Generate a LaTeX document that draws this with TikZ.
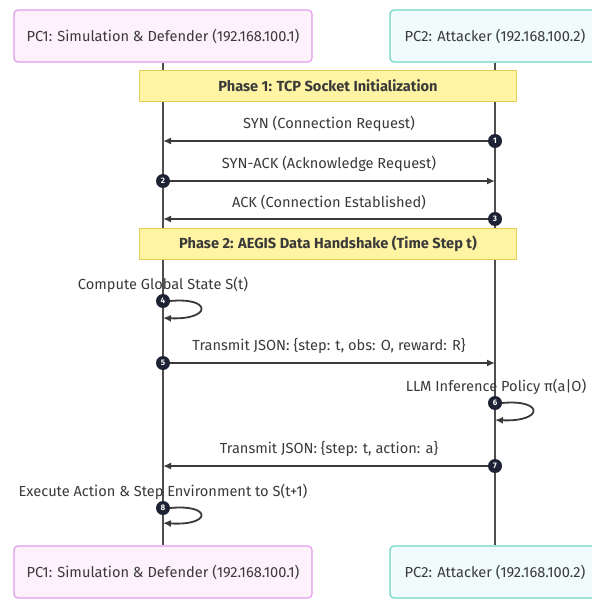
\documentclass[tikz,border=0pt]{standalone}
\usepackage{fontspec}
\setmainfont{Fira Sans}
\usetikzlibrary{arrows.meta}
\definecolor{pcpink}{HTML}{E39BE8}
\definecolor{pcpinkfill}{HTML}{FDF2FC}
\definecolor{pcteal}{HTML}{6ED6C6}
\definecolor{pctealfill}{HTML}{F0FBFB}
\definecolor{phaseline}{HTML}{E6CF58}
\definecolor{phasefill}{HTML}{FFF4A3}
\definecolor{ink}{HTML}{3A3A3A}
\definecolor{dot}{HTML}{1E2235}
\begin{document}
\begin{tikzpicture}[x=1pt,y=-1pt,
  font=\fontsize{14.6}{16}\selectfont,
  pcone/.style={draw=pcpink,fill=pcpinkfill,line width=1.2pt,rounded corners=4pt,
    minimum width=298,minimum height=52,text=ink},
  pctwo/.style={draw=pcteal,fill=pctealfill,line width=1.2pt,rounded corners=4pt,
    minimum width=210,minimum height=52,text=ink},
  phase/.style={draw=phaseline,fill=phasefill,line width=1.2pt,
    minimum width=377,minimum height=31,text=ink,font=\fontsize{14.6}{16}\selectfont\bfseries},
  life/.style={draw=ink!90,line width=1.4pt},
  msg/.style={draw=ink,line width=1.8pt,-{Latex[length=8pt,width=7pt]}},
  lbl/.style={text=ink,inner sep=1pt},
  num/.style={circle,fill=dot,text=white,inner sep=0pt,minimum size=14pt,
    font=\fontsize{8}{8}\selectfont\bfseries}]
\useasboundingbox[fill=white] (0,0) rectangle (591,601);
\node[pcone] (top1) at (163,36) {PC1: Simulation \& Defender (192.168.100.1)};
\node[pctwo] (top2) at (495,36) {PC2: Attacker (192.168.100.2)};
\node[pcone] (bot1) at (163,572) {PC1: Simulation \& Defender (192.168.100.1)};
\node[pctwo] (bot2) at (495,572) {PC2: Attacker (192.168.100.2)};
\draw[life] (top1.south) -- (bot1.north);
\draw[life] (top2.south) -- (bot2.north);
\node[phase] (ph1) at (328,86) {Phase 1: TCP Socket Initialization};
\node[phase] (ph2) at (328,244) {Phase 2: AEGIS Data Handshake (Time Step t)};
\coordinate (e1) at (163,141);
\coordinate (e2) at (495,181);
\coordinate (e3) at (163,219);
\coordinate (r4) at (163,318);
\coordinate (e5) at (495,363);
\coordinate (r6) at (495,420);
\coordinate (e7) at (163,466);
\coordinate (r8) at (163,523);
\draw[msg] (495,141) node[num] (n1) {1} -- (e1) node[lbl,midway,above=7pt] (m1) {SYN (Connection Request)};
\draw[msg] (163,181) node[num] (n2) {2} -- (e2) node[lbl,midway,above=7pt] (m2) {SYN-ACK (Acknowledge Request)};
\draw[msg] (495,219) node[num] (n3) {3} -- (e3) node[lbl,midway,above=7pt] (m3) {ACK (Connection Established)};
\node[lbl] (m4) at (163,285) {Compute Global State S(t)};
\node[num] (n4) at (163,301) {4};
\draw[msg] (n4.east) .. controls (212,297) and (212,320) .. (r4);
\draw[msg] (163,363) node[num] (n5) {5} -- (e5) node[lbl,midway,above=7pt] (m5) {Transmit JSON: \{step: t, obs: O, reward: R\}};
\node[lbl] (m6) at (496,387) {LLM Inference Policy π(a|O)};
\node[num] (n6) at (495,403) {6};
\draw[msg] (n6.east) .. controls (544,399) and (544,422) .. (r6);
\draw[msg] (495,466) node[num] (n7) {7} -- (e7) node[lbl,midway,above=7pt] (m7) {Transmit JSON: \{step: t, action: a\}};
\node[lbl] (m8) at (163,492) {Execute Action \& Step Environment to S(t+1)};
\node[num] (n8) at (163,508) {8};
\draw[msg] (n8.east) .. controls (212,504) and (212,526) .. (r8);
\end{tikzpicture}
\end{document}
